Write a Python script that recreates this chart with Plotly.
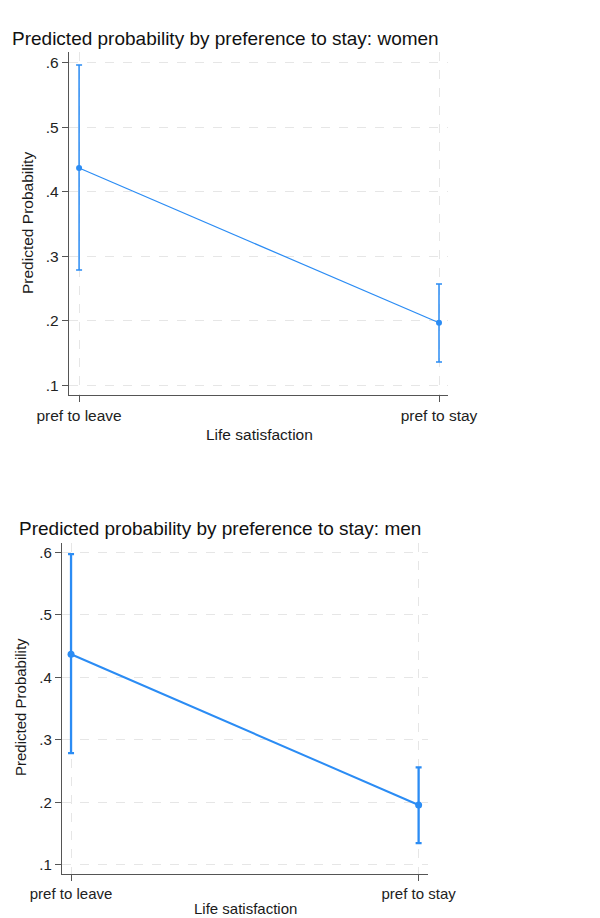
import plotly.graph_objects as go

categories = ["pref to leave", "pref to stay"]
women_pred = [0.437, 0.197]
women_lo = [0.279, 0.136]
women_hi = [0.597, 0.257]
men_pred = [0.437, 0.196]
men_lo = [0.279, 0.135]
men_hi = [0.597, 0.256]
y_ticks = [0.1, 0.2, 0.3, 0.4, 0.5, 0.6]
y_tick_labels = [".1", ".2", ".3", ".4", ".5", ".6"]

BLUE = "#2b8cf4"
FONT = "Liberation Sans, Arial, sans-serif"
W, H = 600, 918
xpos = [0, 1]

fig = go.Figure()

def add_panel(pred, lo, hi, xa, ya, lw, ms):
    fig.add_trace(go.Scatter(
        x=xpos, y=pred, mode="lines+markers",
        line=dict(color=BLUE, width=lw),
        marker=dict(color=BLUE, size=ms),
        error_y=dict(type="data", symmetric=False,
                     array=[h - p for h, p in zip(hi, pred)],
                     arrayminus=[p - l for p, l in zip(pred, lo)],
                     color=BLUE, thickness=lw + 0.3, width=3),
        xaxis=xa, yaxis=ya, showlegend=False, hoverinfo="skip"))

add_panel(women_pred, women_lo, women_hi, "x", "y", 1.2, 6)
add_panel(men_pred, men_lo, men_hi, "x2", "y2", 2, 7)

def axis_common(fs):
    return dict(showline=True, linecolor="#555555", linewidth=1.3,
                ticks="outside", ticklen=6, tickcolor="#555555",
                showgrid=True, gridcolor="#e6e6e6", griddash="dash", gridwidth=1,
                zeroline=False, automargin=False,
                tickfont=dict(family=FONT, size=fs, color="#222"))

def ann(text, x, y, size, angle=0):
    return dict(text=text, x=x / W, y=1 - y / H, xref="paper", yref="paper",
                xanchor="center", yanchor="middle", showarrow=False, textangle=angle,
                font=dict(family=FONT, size=size, color="#1a1a1a"))

def ann_left(text, x, y, size):
    return dict(text=text, x=x / W, y=1 - y / H, xref="paper", yref="paper",
                xanchor="left", yanchor="middle", showarrow=False,
                font=dict(family=FONT, size=size, color="#111"))

fig.update_layout(
    width=W, height=H, margin=dict(l=0, r=0, t=0, b=0, autoexpand=False),
    paper_bgcolor="white", plot_bgcolor="white",
    font=dict(family=FONT, color="#222"),
    xaxis=dict(domain=[69/W, 448/W], range=[-0.028, 1.025],
               tickvals=xpos, ticktext=categories, anchor="y", **axis_common(15.5)),
    yaxis=dict(domain=[1 - 395/H, 1 - 52/H], range=[0.085, 0.617],
               tickvals=y_ticks, ticktext=y_tick_labels, anchor="x", **axis_common(15.5)),
    xaxis2=dict(domain=[62/W, 428/W], range=[-0.026, 1.027],
                tickvals=xpos, ticktext=categories, anchor="y2", **axis_common(15)),
    yaxis2=dict(domain=[1 - 874/H, 1 - 543/H], range=[0.0856, 0.6149],
                tickvals=y_ticks, ticktext=y_tick_labels, anchor="x2", **axis_common(15)),
    annotations=[
        ann_left("Predicted probability by preference to stay: women", 10, 38, 19),
        ann_left("Predicted probability by preference to stay: men", 17, 528, 19),
        ann("Life satisfaction", 259, 434, 15.5),
        ann("Predicted Probability", 27, 223, 15.5, -90),
        ann("Life satisfaction", 245, 908, 15),
        ann("Predicted Probability", 20, 707, 15, -90),
    ],
)

fig.write_html("out.html")
